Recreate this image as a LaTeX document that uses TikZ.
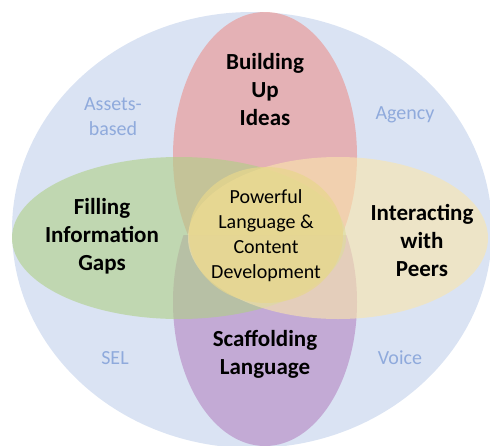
\documentclass[tikz,border=0pt]{standalone}
\usepackage{fontspec}
\setmainfont{Carlito}
\usepackage{tikz}
\usetikzlibrary{positioning}
\definecolor{bgblue}{RGB}{218,227,243}
\definecolor{petalred}{RGB}{235,145,140}
\definecolor{petalgreen}{RGB}{175,207,133}
\definecolor{petalyellow}{RGB}{250,230,171}
\definecolor{petalpurple}{RGB}{181,132,193}
\definecolor{corecol}{RGB}{232,215,140}
\definecolor{themeblue}{RGB}{143,170,220}

\begin{document}
\begin{tikzpicture}[
                x=1pt, y=-1pt,
                petal/.style = {fill opacity=0.6},
                B/.style = {align=center, font=\fontsize{23}{28}\selectfont\bfseries},
                T/.style = {align=center, text=themeblue, font=\fontsize{20}{25}\selectfont},
                C/.style = {align=center, font=\fontsize{20}{25}\selectfont}
                    ]
                \useasboundingbox (0,0) rectangle (490,445);
                \clip (0,0) rectangle (490,445);
                % background and petals
                \fill[bgblue] (252,230) ellipse [x radius=240, y radius=218];
                \begin{scope}
                \clip (0,0) rectangle (490,235);
                \fill[petalred, petal] (265,156) ellipse [x radius=92, y radius=144];
                \end{scope}
                \begin{scope}
                \clip (0,235) rectangle (490,445);
                \fill[petalpurple, petal] (265,302) ellipse [x radius=92, y radius=144];
                \end{scope}
                \fill[petalgreen, petal] (179,238) ellipse [x radius=167, y radius=81];
                \fill[petalyellow, petal] (338,238) ellipse [x radius=150, y radius=81];
                \fill[corecol, fill opacity=0.7] (266,235) ellipse [x radius=77, y radius=68];
                \begin{scope}[nodes=B]
                \node (build) at (265,90) {Building\\Up\\Ideas};
                \node (fill) at (102,236) {Filling\\Information\\Gaps};
                \node (peers) at (422,240) {Interacting\\with\\Peers};
                \node (scaf) at (265,354) {Scaffolding\\Language};
                \end{scope}
                \node (core) [C] at (266,236) {Powerful\\Language \&\\Content\\Development};
                \begin{scope}[nodes=T]
                \node (assets) at (113,117) {Assets-\\based};
                \node (agency) at (405,115) {Agency};
                \node (sel) at (115,358) {SEL};
                \node (voice) at (400,358) {Voice};
                \end{scope}
            \end{tikzpicture}
\end{document}
